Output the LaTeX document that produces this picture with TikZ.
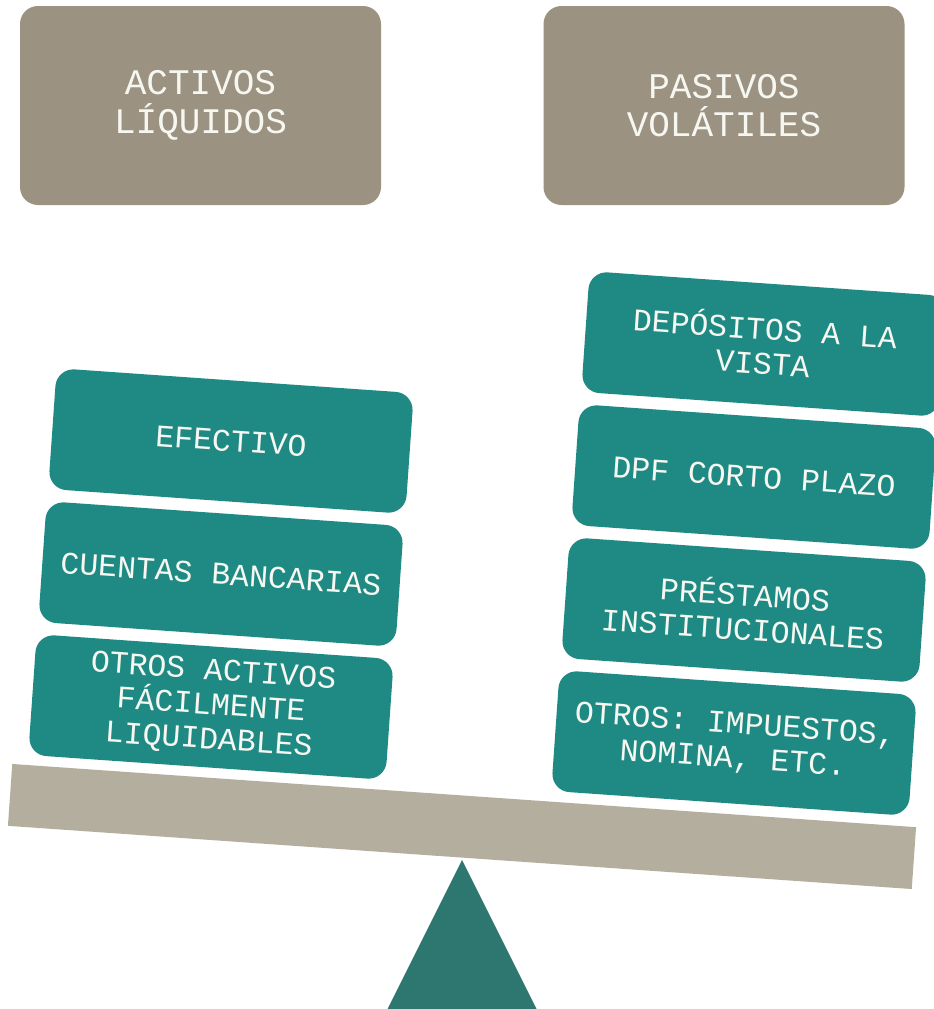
\documentclass[tikz,border=0pt]{standalone}
\usepackage{fontspec}
\newfontfamily\cour{Liberation Mono}
\definecolor{taupe}{HTML}{9B9281}
\definecolor{tealbox}{HTML}{1F8A84}
\definecolor{beamcol}{HTML}{B4AE9F}
\definecolor{fulcrum}{HTML}{2E7670}
\definecolor{txt}{HTML}{F7F7F2}
\begin{document}
\begin{tikzpicture}[x=1pt,y=1pt,
  head/.style={fill=taupe, rounded corners=18pt, minimum width=361pt, minimum height=199pt,
    inner sep=0pt, text=txt, align=center, font=\fontsize{36}{38.5}\selectfont\cour},
  item/.style={fill=tealbox, rounded corners=18pt, minimum width=358pt, minimum height=121pt,
    inner sep=0pt, text=txt, align=center, rotate=-4, font=\fontsize{31.5}{34.5}\selectfont\cour}]
\useasboundingbox (0,0) rectangle (934,-1009);
\clip (0,0) rectangle (934,-1009);
\fill[white] (0,0) rectangle (934,-1009);
% headers
\node[head] (activos) at (200.5,-105.5) {ACTIVOS\\LÍQUIDOS};
\node[head] (pasivos) at (724,-105.5) {PASIVOS\\VOLÁTILES};
% fulcrum and beam
\fill[fulcrum] (462,-860) coordinate (apex) -- (386,-1012) -- (538,-1012) -- cycle;
\node[fill=beamcol, rotate=-4, minimum width=906pt, minimum height=62pt, inner sep=0pt] (beam) at (462,-826.5) {};
% left stack
\node[item] (efectivo) at (231,-441) {EFECTIVO};
\node[item] (cuentas) at (221,-574) {CUENTAS BANCARIAS};
\node[item] (otrosact) at (211,-707) {OTROS ACTIVOS\\FÁCILMENTE\\LIQUIDABLES};
% right stack
\node[item] (depositos) at (764,-344) {DEPÓSITOS A LA\\VISTA};
\node[item] (dpf) at (754,-477) {DPF CORTO PLAZO};
\node[item] (prestamos) at (744,-610) {PRÉSTAMOS\\INSTITUCIONALES};
\node[item] (otrospas) at (734,-743) {OTROS: IMPUESTOS,\\NOMINA, ETC.};
\end{tikzpicture}
\end{document}
